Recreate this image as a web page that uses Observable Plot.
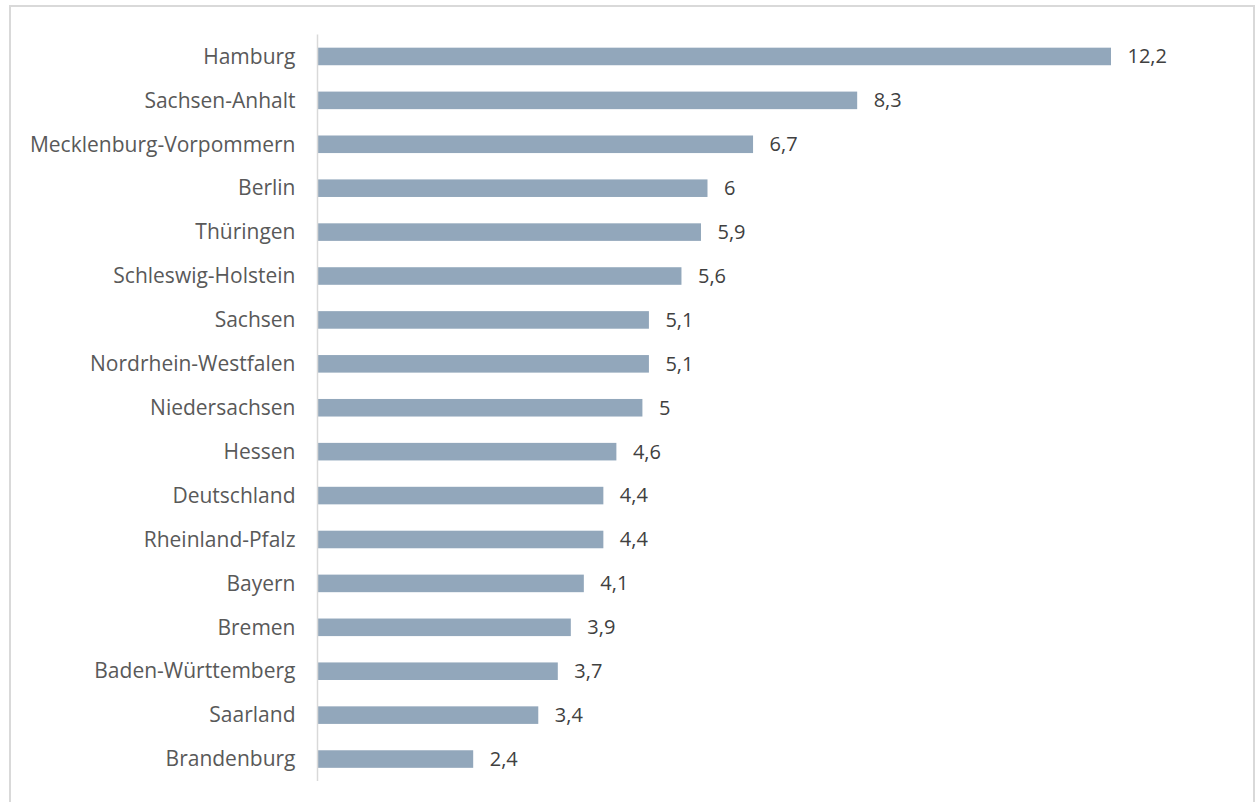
<!DOCTYPE html>
<html>
<head>
<meta charset="utf-8">
<script src="https://cdn.jsdelivr.net/npm/d3@7"></script>
<script src="https://cdn.jsdelivr.net/npm/@observablehq/plot@0.6"></script>
<style>
  html, body { margin: 0; padding: 0; background: #fff; }
  body { width: 1257px; height: 802px; overflow: hidden; position: relative; font-family: "Open Sans", sans-serif; }
  #frame { position: absolute; left: 9px; top: 5px; width: 1246px; height: 820px; border: 2px solid #d9d9d9; box-sizing: border-box; }
  #chart { position: absolute; left: 0; top: 0; }
</style>
</head>
<body>
<div id="frame"></div>
<div id="chart"></div>
<script>
const regions = ["Hamburg", "Sachsen-Anhalt", "Mecklenburg-Vorpommern", "Berlin", "Thüringen", "Schleswig-Holstein", "Sachsen", "Nordrhein-Westfalen", "Niedersachsen", "Hessen", "Deutschland", "Rheinland-Pfalz", "Bayern", "Bremen", "Baden-Württemberg", "Saarland", "Brandenburg"];
const values = [12.2, 8.3, 6.7, 6, 5.9, 5.6, 5.1, 5.1, 5, 4.6, 4.4, 4.4, 4.1, 3.9, 3.7, 3.4, 2.4];

const data = regions.map((r, i) => ({region: r, value: values[i]}));
const fmt = v => String(v).replace(".", ",");

const chart = Plot.plot({
  width: 1257,
  height: 802,
  marginLeft: 317,
  marginRight: 146,
  marginTop: 34.5,
  marginBottom: 21,
  style: {fontFamily: "'Open Sans', sans-serif", background: "transparent"},
  x: {domain: [0, 12.2], axis: null},
  y: {domain: regions, paddingInner: 0.6, paddingOuter: 0.3, round: false, label: null},
  marks: [
    Plot.barX(data, {x: "value", y: "region", fill: "#92a7bb"}),
    Plot.ruleX([0], {stroke: "#d9d9d9", strokeWidth: 1.5}),
    Plot.text(data, {x: "value", y: "region", text: d => fmt(d.value), textAnchor: "start", dx: 16, fontSize: 20, fill: "#404040"}),
    Plot.axisY({tickSize: 0, tickPadding: 22, fontSize: 21, color: "#595959", label: null})
  ]
});
document.getElementById("chart").appendChild(chart);
</script>
</body>
</html>
